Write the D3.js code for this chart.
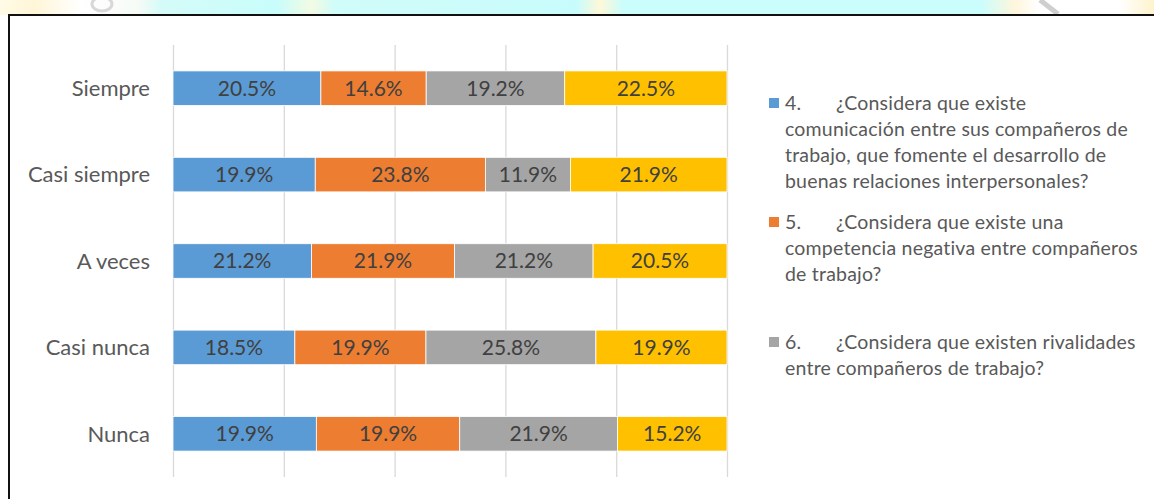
<!DOCTYPE html>
<html>
<head>
<meta charset="utf-8">
<script src="https://d3js.org/d3.v7.min.js"></script>
<style>
	body { margin: 0; background: #fff; }
	svg { display: block; }
	.cat text { font-family: Lato, "Open Sans", sans-serif; font-size: 22px; fill: #595959; }
	.lbl { font-family: Lato, "Open Sans", sans-serif; font-size: 21px; fill: #404040; }
	.legend text { font-family: Lato, "Open Sans", sans-serif; font-size: 19.5px; fill: #595959; letter-spacing: 0.2px; }
</style>
</head>
<body>
<script>
// categories (top to bottom) and the four series, raw percentages
var categories = ["Siempre", "Casi siempre", "A veces", "Casi nunca", "Nunca"];
var seriesKeys = ["p4", "p5", "p6", "p7"];
var p4 = [20.5, 19.9, 21.2, 18.5, 19.9];
var p5 = [14.6, 23.8, 21.9, 19.9, 19.9];
var p6 = [19.2, 11.9, 21.2, 25.8, 21.9];
var p7 = [22.5, 21.9, 20.5, 19.9, 15.2];
var colors = ["#5B9BD5", "#ED7D31", "#A5A5A5", "#FFC000"];

// legend (only three entries are visible in the picture)
var legendNums = ["4.", "5.", "6."];
var legendLines = [
	["¿Considera que existe", "comunicación entre sus compañeros de", "trabajo, que fomente el desarrollo de", "buenas relaciones interpersonales?"],
	["¿Considera que existe una", "competencia negativa entre compañeros", "de trabajo?"],
	["¿Considera que existen rivalidades", "entre compañeros de trabajo?"]
];
var legendY = [103, 222, 342];

var W = 1154, H = 499;

var dataset = categories.map(function (c, i) {
	return { cat: c, p4: p4[i], p5: p5[i], p6: p6[i], p7: p7[i] };
});

var svg = d3.select("body").append("svg").attr("width", W).attr("height", H);

// blurred backdrop strip above the chart frame
var defs = svg.append("defs");
var grad = defs.append("linearGradient").attr("id", "strip");
[[0, "#fffbe6"], [0.03, "#fff6d8"], [0.07, "#ffffff"], [0.12, "#f6fbf6"], [0.14, "#d4fbf8"],
 [0.24, "#c8fdfb"], [0.27, "#f3fbe4"], [0.29, "#d0fcf9"], [0.5, "#c8fcfc"], [0.52, "#fff8d8"],
 [0.54, "#cafdfc"], [0.85, "#cbfdfc"], [0.88, "#fff6dc"], [0.9, "#ffffff"], [0.97, "#ffffff"], [1, "#fff3cc"]]
	.forEach(function (s) { grad.append("stop").attr("offset", s[0]).attr("stop-color", s[1]); });
svg.append("rect").attr("x", 0).attr("y", 0).attr("width", W).attr("height", 15).attr("fill", "url(#strip)");
svg.append("ellipse").attr("cx", 102).attr("cy", 4).attr("rx", 10).attr("ry", 7)
	.attr("fill", "none").attr("stroke", "#d8d8d8").attr("stroke-width", 3);
svg.append("line").attr("x1", 1040).attr("y1", 0).attr("x2", 1058).attr("y2", 14)
	.attr("stroke", "#cfcfcf").attr("stroke-width", 5);

// chart frame
svg.append("line").attr("x1", 8).attr("y1", 15).attr("x2", W).attr("y2", 15).attr("stroke", "#111").attr("stroke-width", 2);
svg.append("line").attr("x1", 9).attr("y1", 14).attr("x2", 9).attr("y2", H).attr("stroke", "#111").attr("stroke-width", 2);

// scales
var xScale = d3.scaleLinear().domain([0, 1]).range([173, 727]);
var yScale = d3.scaleBand().domain(categories).range([45, 477]).paddingInner(0.6).paddingOuter(0.3);

// gridlines
var grid = svg.append("g").attr("transform", "translate(0,477)")
	.call(d3.axisBottom(xScale).tickValues([0, 0.2, 0.4, 0.6, 0.8, 1]).tickSize(-432).tickFormat(""));
grid.select(".domain").remove();
grid.selectAll("line").attr("stroke", "#D9D9D9").attr("stroke-width", 1.3);

// category axis
var yAxis = svg.append("g").attr("class", "cat").attr("transform", "translate(173,0)")
	.call(d3.axisLeft(yScale).tickSize(0).tickPadding(23));
yAxis.select(".domain").remove();
yAxis.selectAll("text").attr("dy", "0.35em");

// 100% stacked bars
var stack = d3.stack().keys(seriesKeys).offset(d3.stackOffsetExpand);
var layers = stack(dataset);

var layer = svg.selectAll("g.layer").data(layers).enter().append("g")
	.attr("class", "layer")
	.attr("fill", function (d, i) { return colors[i]; });

layer.selectAll("rect").data(function (d) { return d; }).enter().append("rect")
	.attr("x", function (d) { return xScale(d[0]); })
	.attr("y", function (d) { return yScale(d.data.cat); })
	.attr("width", function (d) { return xScale(d[1]) - xScale(d[0]); })
	.attr("height", yScale.bandwidth())
	.attr("stroke", "#fff").attr("stroke-width", 0.8);

layers.forEach(function (l) {
	svg.append("g").selectAll("text").data(l).enter().append("text")
		.attr("class", "lbl")
		.attr("x", function (d) { return (xScale(d[0]) + xScale(d[1])) / 2; })
		.attr("y", function (d) { return yScale(d.data.cat) + yScale.bandwidth() / 2; })
		.attr("dy", "0.35em")
		.attr("text-anchor", "middle")
		.text(function (d) { return d.data[l.key].toFixed(1) + "%"; });
});

// legend
var legend = svg.append("g").attr("class", "legend");
legendNums.forEach(function (n, i) {
	var y0 = legendY[i];
	legend.append("rect").attr("x", 769).attr("y", y0 - 5).attr("width", 10).attr("height", 10).attr("fill", colors[i]);
	var t = legend.append("text").attr("y", y0).attr("dy", "0.35em");
	t.append("tspan").attr("x", 785).text(n);
	t.append("tspan").attr("x", 836).text(legendLines[i][0]);
	legendLines[i].slice(1).forEach(function (line, j) {
		legend.append("text").attr("x", 785).attr("y", y0 + 26 * (j + 1)).attr("dy", "0.35em").text(line);
	});
});
</script>
</body>
</html>
